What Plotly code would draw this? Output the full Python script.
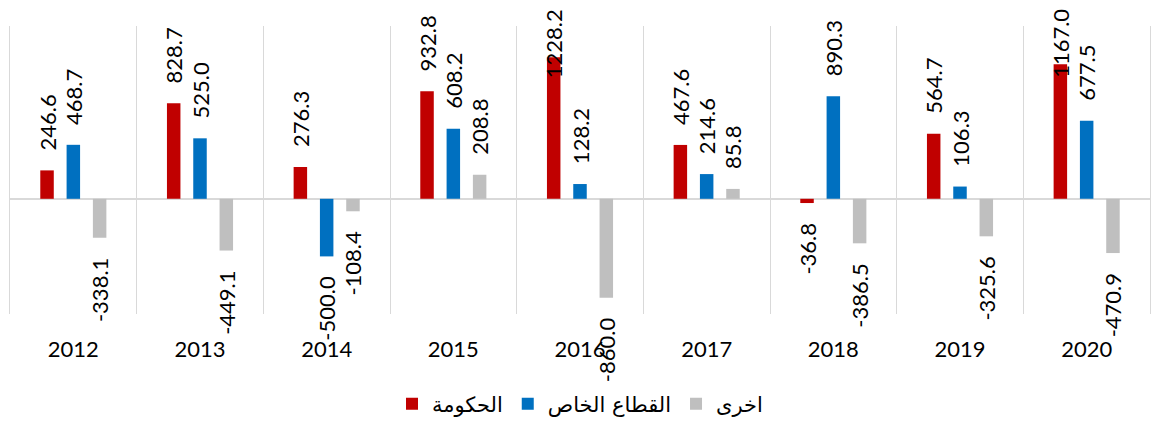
import plotly.graph_objects as go

years = ["2012", "2013", "2014", "2015", "2016", "2017", "2018", "2019", "2020"]
government = [246.6, 828.7, 276.3, 932.8, 1228.2, 467.6, -36.8, 564.7, 1167.0]
private_sector = [468.7, 525.0, -500.0, 608.2, 128.2, 214.6, 890.3, 106.3, 677.5]
others = [-338.1, -449.1, -108.4, 208.8, -860.0, 85.8, -386.5, -325.6, -470.9]

series_names = ["الحكومة", "القطاع الخاص", "اخرى"]
series_colors = ["#C00000", "#0070C0", "#BFBFBF"]
Y_MIN, Y_MAX = -1000, 1500

W, H = 1151, 426
ML, MR, MT, MB = 10, 1, 26, 109
BARGAP = 0.377
PAD = "\u00a0\u00a0\u00a0"
LABEL_FONT = dict(family="Lato", size=22, color="#000000")
TOO_TALL = 1100  # labels of taller bars are pinned to the top of the chart, as in the original


def label(v):
    s = f"{v:.1f}"
    if v > TOO_TALL:
        return ""
    return PAD + s if v >= 0 else s + PAD


fig = go.Figure()
all_series = [government, private_sector, others]
for name, vals, col in zip(series_names, all_series, series_colors):
    fig.add_trace(go.Bar(
        x=years, y=vals, name=name,
        marker=dict(color=col, line=dict(width=0)),
        text=[label(v) for v in vals],
        textposition="outside",
        textangle=-90,
        constraintext="none",
        cliponaxis=False,
        textfont=LABEL_FONT,
        hoverinfo="skip",
    ))

# pinned labels for the bars that reach the top of the chart
slot_px = (W - ML - MR) / len(years) * (1 - BARGAP) / len(all_series)
annotations = []
for si, vals in enumerate(all_series):
    for ci, v in enumerate(vals):
        if v > TOO_TALL:
            annotations.append(dict(
                x=ci, xref="x", y=Y_MAX, yref="y", yanchor="top", yshift=19,
                xshift=float((si - 1) * slot_px), text=f"{v:.1f}", textangle=-90,
                showarrow=False, font=LABEL_FONT,
            ))

fig.update_layout(
    annotations=annotations,
    width=W, height=H,
    margin=dict(l=ML, r=MR, t=MT, b=MB),
    paper_bgcolor="white", plot_bgcolor="white",
    barmode="group", bargap=BARGAP, bargroupgap=0.487,
    showlegend=True,
    legend=dict(orientation="h", x=0.5, xanchor="center", y=-0.313, yanchor="middle",
                font=dict(family="DejaVu Sans", size=21, color="#000000"),
                itemwidth=30, traceorder="normal"),
    xaxis=dict(type="category", range=[-0.5, len(years) - 0.5], tickson="boundaries",
               showgrid=True, gridcolor="#D9D9D9",
               gridwidth=1, ticks="", showline=False, zeroline=False,
               tickfont=dict(family="Lato", size=22, color="#000000"),
               ticklabelstandoff=20),
    yaxis=dict(range=[Y_MIN, Y_MAX], showticklabels=False, showgrid=False,
               zeroline=True, zerolinecolor="#D9D9D9", zerolinewidth=1.5,
               showline=True, mirror=True, linecolor="#D9D9D9", linewidth=1),
)

fig.write_html("out.html", config={"displayModeBar": False},
               post_script="document.body.style.margin='0';")
